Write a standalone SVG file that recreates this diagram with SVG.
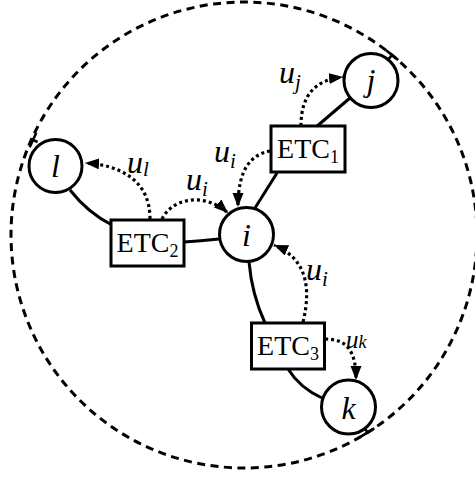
<svg xmlns="http://www.w3.org/2000/svg" width="475" height="477" viewBox="0 0 475 477">
<defs>
<style>
.node{fill:#fff;stroke:#000;stroke-width:3}
.edge{fill:none;stroke:#000;stroke-width:3}
.msg{fill:none;stroke:#000;stroke-width:3.2;stroke-dasharray:3 3;marker-end:url(#arr)}
.bound{fill:none;stroke:#000;stroke-width:3;stroke-dasharray:8 5.5}
.tick{stroke:#000;stroke-width:2.6;fill:none}
.nl{font-family:"Liberation Serif",serif;font-style:italic;font-size:32px;text-anchor:middle}
.etc{font-family:"Liberation Serif",serif;font-size:28px;text-anchor:middle}
.etc tspan{font-size:18px}
.lab{font-family:"Liberation Serif",serif;font-style:italic;font-size:32px}
.lab tspan{font-size:21px}
</style>
<marker id="arr" markerUnits="userSpaceOnUse" markerWidth="16" markerHeight="12" refX="14" refY="5.5" orient="auto" viewBox="0 0 16 12">
<path d="M0,0 L14,5.5 L0,11 z" fill="#000"/>
</marker>
</defs>
<g id="boundary">
<circle class="bound" cx="244" cy="235" r="233"/>
<path class="tick" d="M33,140 L37.6,142 M29.7,147.3 L36.3,132.7"/>
<path class="tick" d="M392,55 L388.8,58.9 M385.8,49.9 L398.2,60.1"/>
<path class="tick" d="M367.5,432.5 L364.8,428.3 M374.3,428.3 L360.7,436.7"/>
</g>
<g id="connectors">
<path class="edge" d="M350,98 L316,127"/>
<path class="edge" d="M277,173 L255,208"/>
<path class="edge" d="M70,190 Q88,213 112,225"/>
<path class="edge" d="M184,242 Q200,241 219,239"/>
<path class="edge" d="M249,262 Q252,295 265,323"/>
<path class="edge" d="M288,369 Q300,388 322,398"/>
<path class="msg" d="M301,126 C301,95 315,80 343,77"/>
<path class="msg" d="M270,151 C250,155 238,170 238,207"/>
<path class="msg" d="M150,219 C150,180 120,165 85,163"/>
<path class="msg" d="M162,219 C172,198 205,192 228,213"/>
<path class="msg" d="M303,322 C312,285 305,258 274,245"/>
<path class="msg" d="M325,339 C348,339 356,352 356,380"/>
</g>
<g id="labels">
<text class="lab" x="279" y="83">u<tspan dy="6">j</tspan></text>
<text class="lab" x="214" y="162">u<tspan dy="6">i</tspan></text>
<text class="lab" x="127" y="173">u<tspan dy="3">l</tspan></text>
<text class="lab" x="186" y="190">u<tspan dy="6">i</tspan></text>
<text class="lab" x="306" y="280">u<tspan dy="6">i</tspan></text>
<text class="lab" x="346" y="348" style="font-size:25px">u<tspan dy="0" style="font-size:18px">k</tspan></text>
</g>
<g id="node-j"><circle class="node" cx="371" cy="80.5" r="27"/><text class="nl" x="371" y="91">j</text></g>
<g id="node-l"><circle class="node" cx="55.5" cy="166" r="26.5"/><text class="nl" x="55.5" y="177">l</text></g>
<g id="node-i"><circle class="node" cx="246.5" cy="234.5" r="27"/><text class="nl" x="246.5" y="245.5">i</text></g>
<g id="node-k"><circle class="node" cx="348.5" cy="407" r="27"/><text class="nl" x="348.5" y="418.5">k</text></g>
<g id="node-etc1"><rect class="node" x="271" y="126" width="74" height="46"/><text class="etc" x="308" y="158">ETC<tspan dy="5">1</tspan></text></g>
<g id="node-etc2"><rect class="node" x="111" y="220" width="73" height="46"/><text class="etc" x="147.5" y="252">ETC<tspan dy="5">2</tspan></text></g>
<g id="node-etc3"><rect class="node" x="251.5" y="323" width="73" height="46"/><text class="etc" x="288" y="355">ETC<tspan dy="5">3</tspan></text></g>
</svg>
